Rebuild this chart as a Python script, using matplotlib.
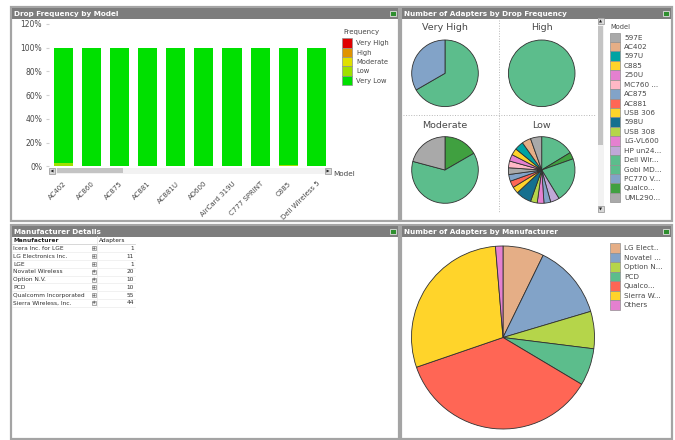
import numpy as np
import matplotlib.pyplot as plt
from matplotlib.patches import Rectangle, Polygon

W, H = 675, 440

# ---- data: drop frequency by model (percent of adapters, stacked) ----
bar_models = ["AC402", "AC860", "AC875", "AC881", "AC881U", "AD600",
              "AirCard 319U", "C777 SPRINT", "C885", "Dell Wireless 5"]
freq_levels = ["Very High", "High", "Moderate", "Low", "Very Low"]
freq_colors = ["#e00000", "#e09400", "#e0e000", "#a0e000", "#00e000"]
pct_very_high = [0, 0, 0, 0, 0, 0, 0, 0, 0, 0]
pct_high = [0, 0, 0, 0, 0, 0, 0, 0, 0, 0]
pct_moderate = [0.4, 0, 0, 0.6, 0, 0, 0, 0, 0.4, 0]
pct_low = [2.1, 0, 0, 0, 0, 0, 0, 0, 0.4, 0]
pct_very_low = [97.5, 100, 100, 99.4, 100, 100, 100, 100, 99.2, 100]

# ---- data: number of adapters by drop frequency ----
legend_models = ["597E", "AC402", "597U", "C885", "250U", "MC760 ...", "AC875",
                 "AC881", "USB 306", "598U", "USB 308", "LG-VL600", "HP un24...",
                 "Dell Wir...", "Gobi MD...", "PC770 V...", "Qualco...", "UML290..."]
legend_colors = ["#a9a9a9", "#e5ae86", "#00a3a3", "#ffd42a", "#e580d0", "#ffb8c6",
                 "#82a3c8", "#ff6655", "#ffd42a", "#15708f", "#b5d54a", "#e580d0",
                 "#c0a8d8", "#5cbd8c", "#5cbd8c", "#82a3c8", "#40a040", "#a9a9a9"]
model_color = dict(zip(legend_models, legend_colors))

vh_models = ["Gobi MD...", "AC875"]
vh_counts = [2, 1]
hi_models = ["Dell Wir..."]
hi_counts = [1]
mod_models = ["Qualco...", "Gobi MD...", "597E"]
mod_counts = [4, 15, 5]
low_models = ["Dell Wir...", "Qualco...", "Gobi MD...", "HP un24...", "PC770 V...",
              "LG-VL600", "USB 308", "598U", "USB 306", "AC881", "AC875", "UML290...",
              "MC760 ...", "250U", "C885", "597U", "AC402", "597E"]
low_counts = [15, 3, 20, 4, 3, 3, 3, 7, 3, 3, 3, 3, 3, 3, 3, 4, 4, 5]

# ---- data: manufacturer details ----
manufacturers = ["Icera Inc. for LGE", "LG Electronics Inc.", "LGE", "Novatel Wireless",
                 "Option N.V.", "PCD", "Qualcomm Incorporated", "Sierra Wireless, Inc."]
adapters = [1, 11, 1, 20, 10, 10, 55, 44]
pie_labels = ["LG Elect..", "Novatel ...", "Option N...", "PCD", "Qualco...", "Sierra W...", "Others"]
pie_colors = ["#e5ae86", "#82a3c8", "#b5d54a", "#5cbd8c", "#ff6655", "#ffd42a", "#e580d0"]

# group single adapter makers into Others
pie_values = [a for a in adapters if a > 1] + [sum(a for a in adapters if a <= 1)]

fig = plt.figure(figsize=(W / 100, H / 100), dpi=100)
bg = fig.add_axes([0, 0, 1, 1])
bg.set_xlim(0, W)
bg.set_ylim(H, 0)
bg.axis('off')

TXT = '#484848'


def px_axes(x0, y0, x1, y1):
    return fig.add_axes([x0 / W, 1 - y1 / H, (x1 - x0) / W, (y1 - y0) / H])


def panel(x0, y0, x1, y1, title):
    bg.add_patch(Rectangle((x0, y0), x1 - x0, y1 - y0, fc='white', ec='#a4a4a4', lw=1.6))
    bg.add_patch(Rectangle((x0 + 1, y0 + 1), x1 - x0 - 2, 11, fc='#7d7d7d', ec='none'))
    bg.text(x0 + 3, y0 + 6.8, title, color='white', fontweight='bold', fontsize=5.2,
            va='center', ha='left')
    bg.add_patch(Rectangle((x1 - 9, y0 + 4), 6, 5, fc='#2f8f2f', ec='#e0e0e0', lw=0.6))


def arrow_box(x, y, w, h, direction):
    bg.add_patch(Rectangle((x, y), w, h, fc='#d8d8d8', ec='#909090', lw=0.5))
    cx, cy = x + w / 2, y + h / 2
    d = 1.5
    pts = {'left': [(cx + d, cy - d), (cx + d, cy + d), (cx - d, cy)],
           'right': [(cx - d, cy - d), (cx - d, cy + d), (cx + d, cy)],
           'up': [(cx - d, cy + d), (cx + d, cy + d), (cx, cy - d)],
           'down': [(cx - d, cy - d), (cx + d, cy - d), (cx, cy + d)]}[direction]
    bg.add_patch(Polygon(pts, closed=True, fc='#202020', ec='none'))


panel(11, 7, 399, 221, "Drop Frequency by Model")
panel(401, 7, 672, 221, "Number of Adapters by Drop Frequency")
panel(11, 225, 399, 439, "Manufacturer Details")
panel(401, 225, 672, 439, "Number of Adapters by Manufacturer")

# ---- stacked bar chart ----
ax = px_axes(49, 24, 330.6, 166.3)
x = np.arange(len(bar_models))
bottom = np.zeros(len(bar_models))
for vals, col in zip([pct_very_high, pct_high, pct_moderate, pct_low, pct_very_low], freq_colors):
    ax.bar(x, vals, width=0.68, bottom=bottom, color=col, edgecolor='none')
    bottom += np.array(vals)
ax.set_xlim(-0.5, len(bar_models) - 0.5)
ax.set_ylim(0, 120)
ax.set_yticks(np.arange(0, 121, 20))
ax.set_yticklabels([f"{v}%" for v in range(0, 121, 20)])
ax.set_xticks(x)
ax.set_xticklabels(bar_models)
for sp in ax.spines.values():
    sp.set_visible(False)
ax.tick_params(axis='y', labelsize=5.5, labelcolor=TXT, length=2, color='#d0d0d0', pad=3)
ax.tick_params(axis='x', labelsize=5, labelcolor=TXT, length=0, pad=10)
plt.setp(ax.get_xticklabels(), rotation=45, ha='right', va='top', rotation_mode='anchor')
ax.patch.set_alpha(0)

# horizontal scroll bar under the bars
bg.add_patch(Rectangle((56, 168), 269, 6, fc='#f2f2f2', ec='none'))
bg.add_patch(Rectangle((57, 168.5), 66, 5, fc='#c4c4c4', ec='none'))
arrow_box(49, 168, 6, 6, 'left')
arrow_box(325, 168, 6, 6, 'right')
bg.text(333, 174, "Model", fontsize=5.2, color=TXT, va='center', ha='left')

# frequency legend
bg.text(343, 32, "Frequency", fontsize=5, color=TXT, va='center', ha='left')
for i, (lab, col) in enumerate(zip(freq_levels, freq_colors)):
    y0 = 38.5 + i * 9.3
    bg.add_patch(Rectangle((342, y0), 10, 9.3, fc=col, ec='#909090', lw=0.5))
    bg.text(356, y0 + 4.8, lab, fontsize=4.9, color=TXT, va='center', ha='left')

# ---- small pies by drop frequency ----
pies = [("Very High", vh_models, vh_counts, 445, 73.3),
        ("High", hi_models, hi_counts, 541.7, 73.3),
        ("Moderate", mod_models, mod_counts, 445, 170),
        ("Low", low_models, low_counts, 541.7, 170)]
r = 33.3
for title, models, counts, cx, cy in pies:
    pa = px_axes(cx - r - 1, cy - r - 1, cx + r + 1, cy + r + 1)
    pa.pie(counts, colors=[model_color[m] for m in models], startangle=90,
           counterclock=False, radius=1,
           wedgeprops=dict(edgecolor='#303030', linewidth=0.6))
    lim = (r + 1) / r
    pa.set_xlim(-lim, lim)
    pa.set_ylim(-lim, lim)
    bg.text(cx, 28 if cy < 100 else 125, title, fontsize=6.8, color=TXT,
            ha='center', va='center')

bg.plot([499, 499], [20, 213], ls=':', color='#b8b8b8', lw=0.7)
bg.plot([403, 596], [115.5, 115.5], ls=':', color='#b8b8b8', lw=0.7)

# vertical scroll bar of the model legend
bg.add_patch(Rectangle((597.5, 18), 6, 195, fc='#f2f2f2', ec='none'))
bg.add_patch(Rectangle((598, 26), 5, 119, fc='#c4c4c4', ec='none'))
arrow_box(597.5, 18, 6, 6, 'up')
arrow_box(597.5, 206, 6, 6, 'down')

bg.text(610.5, 27, "Model", fontsize=4.8, color=TXT, va='center', ha='left')
for i, (lab, col) in enumerate(zip(legend_models, legend_colors)):
    y0 = 32.6 + i * 9.43
    bg.add_patch(Rectangle((610, y0), 10, 9.43, fc=col, ec='#909090', lw=0.5))
    bg.text(624, y0 + 4.9, lab, fontsize=5.2, color=TXT, va='center', ha='left')

# ---- manufacturer table ----
bg.text(13, 240.8, "Manufacturer", fontsize=4.2, fontweight='bold', color='#202020',
        va='center', ha='left')
bg.text(99, 240.8, "Adapters", fontsize=4.2, color='#202020', va='center', ha='left')
bg.plot([12, 135], [244.5, 244.5], color='#c8c8c8', lw=0.5)
bg.plot([96.5, 96.5], [236.5, 306.5], color='#e4e4e4', lw=0.5)
for i, (name, n) in enumerate(zip(manufacturers, adapters)):
    yy = 248.4 + i * 7.8
    bg.text(13, yy, name, fontsize=4.2, color='#303030', va='center', ha='left')
    bg.text(134, yy, str(n), fontsize=4.2, color='#303030', va='center', ha='right')
    bg.add_patch(Rectangle((91.5, yy - 2), 4, 4, fc='#f4f4f4', ec='#707070', lw=0.4))
    bg.text(93.5, yy, "+", fontsize=3.5, color='#202020', va='center', ha='center')
    bg.plot([12, 135], [yy + 3.9, yy + 3.9], color='#ececec', lw=0.5)

# ---- manufacturer pie ----
R = 91.5
mcx, mcy = 503, 337.5
ma = px_axes(mcx - R - 1, mcy - R - 1, mcx + R + 1, mcy + R + 1)
ma.pie(pie_values, colors=pie_colors, startangle=90, counterclock=False, radius=1,
       wedgeprops=dict(edgecolor='#303030', linewidth=0.6))
lim = (R + 1) / R
ma.set_xlim(-lim, lim)
ma.set_ylim(-lim, lim)

for i, (lab, col) in enumerate(zip(pie_labels, pie_colors)):
    y0 = 243.5 + i * 9.5
    bg.add_patch(Rectangle((610, y0), 10, 9.5, fc=col, ec='#909090', lw=0.5))
    bg.text(624, y0 + 4.9, lab, fontsize=5.2, color=TXT, va='center', ha='left')

fig.savefig("out.png", dpi=100)
